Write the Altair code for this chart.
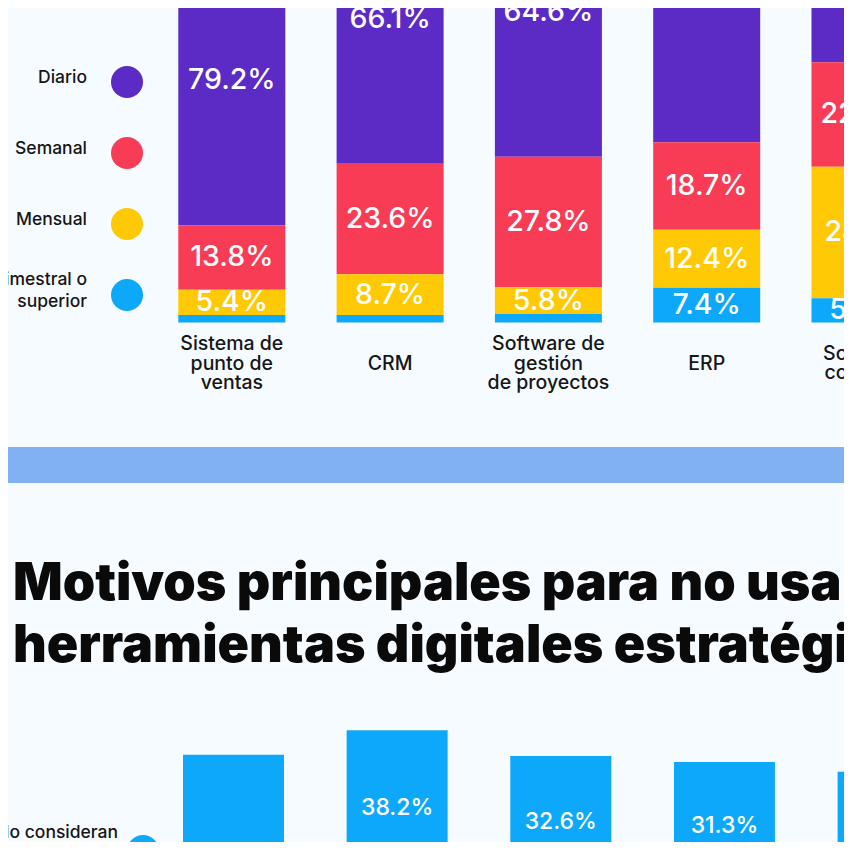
import altair as alt
import pandas as pd

FONT = "Inter"
BG = "#F6FBFF"
INK = "#161616"

# ---------------- top chart data ----------------
herramientas = ["Sistema de\npunto de\nventas", "CRM", "Software de\ngestión\nde proyectos", "ERP", "Software\ncontable"]
frecuencias = ["Diario", "Semanal", "Mensual", "Trimestral o\nsuperior"]
diario = [79.2, 66.1, 64.6, 61.5, 44.4]
semanal = [13.8, 23.6, 27.8, 18.7, 22.3]
mensual = [5.4, 8.7, 5.8, 12.4, 28.1]
trimestral = [1.6, 1.6, 1.8, 7.4, 5.2]
colores_frec = ["#5C2AC4", "#F93C56", "#FFC905", "#0DA8FA"]

# ---------------- bottom chart data ----------------
titulo = ["Motivos principales para no usar", "herramientas digitales estratégicas"]
motivos = ["Motivo 1", "Motivo 2", "Motivo 3", "Motivo 4", "Motivo 5"]
porcentajes = [32.9, 38.2, 32.6, 31.3, 29.2]
etiquetas = ["", "38.2%", "32.6%", "31.3%", ""]
leyenda_inferior = ["No lo consideran"]
color_motivos = "#0DA8FA"

# ---------------- tables ----------------
series = [diario, semanal, mensual, trimestral]
rows = []
for i, h in enumerate(herramientas):
    for j, f in enumerate(frecuencias):
        rows.append({"herramienta": h, "frecuencia": f, "valor": series[j][i],
                     "orden": len(frecuencias) - 1 - j})
df_top = pd.DataFrame(rows)
df_cat = pd.DataFrame({"herramienta": herramientas})
df_leg = pd.DataFrame({"frecuencia": frecuencias, "pos": list(range(len(frecuencias)))})
df_bot = pd.DataFrame({"motivo": motivos, "valor": porcentajes, "etiqueta": etiquetas})
df_one = pd.DataFrame({"k": [0]})
df_leg2 = pd.DataFrame({"texto": leyenda_inferior})

W = 836
H_TOP, H_SEP, H_BOT = 439, 36, 359

X_TOP = alt.Scale(domain=herramientas, range=[170.3, 910.5], paddingInner=0.324, paddingOuter=0)
Y_TOP = alt.Scale(domain=[0, 100], range=[314.5, -153.5], nice=False, zero=False)
COLOR = alt.Scale(domain=frecuencias, range=colores_frec)

base_top = alt.Chart(df_top).transform_stack(
    stack="valor", groupby=["herramienta"], as_=["v0", "v1"],
    sort=[alt.SortField("orden", order="ascending")],
)

bars = base_top.mark_bar(clip=True).encode(
    x=alt.X("herramienta:N", scale=X_TOP, axis=None),
    y=alt.Y("v0:Q", scale=Y_TOP, axis=None),
    y2="v1:Q",
    color=alt.Color("frecuencia:N", scale=COLOR, legend=None),
)

seg_labels = base_top.transform_filter(
    "datum.frecuencia != 'Diario' && datum.valor >= 3"
).transform_calculate(
    mid="(datum.v0 + datum.v1) / 2", txt="format(datum.valor, '.1f') + '%'"
).mark_text(clip=True, color="white", fontSize=28.5, font=FONT, fontWeight=500, baseline="middle").encode(
    x=alt.X("herramienta:N", scale=X_TOP, axis=None),
    y=alt.Y("mid:Q", scale=Y_TOP, axis=None),
    text="txt:N",
)

diario_labels = base_top.transform_filter(
    "datum.frecuencia == 'Diario'"
).transform_calculate(
    txt="format(datum.valor, '.1f') + '%'"
).mark_text(clip=True, color="white", fontSize=28.5, font=FONT, fontWeight=500, baseline="middle", dy=-145).encode(
    x=alt.X("herramienta:N", scale=X_TOP, axis=None),
    y=alt.Y("v0:Q", scale=Y_TOP, axis=None),
    text="txt:N",
)

CAT_LH = 19.5
cat_labels = alt.Chart(df_cat).transform_calculate(
    off=f"-(length(split(datum.herramienta, '\\n')) - 1) * {CAT_LH} / 2"
).mark_text(
    clip=True, dy=41, baseline="middle", lineBreak="\n", lineHeight=CAT_LH,
    fontSize=19.5, font=FONT, fontWeight=500, color=INK,
).encode(
    x=alt.X("herramienta:N", scale=X_TOP, axis=None),
    y=alt.YDatum(0, type="quantitative", scale=Y_TOP),
    yOffset=alt.YOffset("off:Q", scale=None),
    text="herramienta:N",
)

LEG_LH = 22
LEG_Y0, LEG_Y1 = 74, 287
LEG_STEP = (LEG_Y1 - LEG_Y0) / (len(frecuencias) - 1)
Y_LEG = alt.Scale(domain=[0, len(frecuencias) - 1], range=[LEG_Y0, LEG_Y1], nice=False, zero=False)
leg_points = alt.Chart(df_leg).mark_circle(size=1024, opacity=1, clip=True).encode(
    x=alt.value(119),
    y=alt.Y("pos:Q", scale=Y_LEG, axis=None),
    color=alt.Color("frecuencia:N", scale=COLOR, legend=None),
)
leg_text = alt.Chart(df_leg).transform_calculate(
    ypos=f"datum.pos - ((length(split(datum.frecuencia, '\\n')) - 1) * {LEG_LH} / 2 + 4) / {LEG_STEP}"
).mark_text(
    clip=True, align="right", baseline="middle", lineBreak="\n", lineHeight=LEG_LH,
    fontSize=17.5, font=FONT, fontWeight=500, color=INK,
).encode(
    x=alt.value(79),
    y=alt.Y("ypos:Q", scale=Y_LEG, axis=None),
    text="frecuencia:N",
)

top = alt.layer(
    alt.layer(bars, seg_labels, diario_labels, cat_labels),
    alt.layer(leg_points, leg_text),
).resolve_scale(x="independent", y="independent").properties(width=W, height=H_TOP)

sep = alt.Chart(df_one).mark_rect(color="#81B1F3").encode(
    x=alt.value(0), x2=alt.value("width"), y=alt.value(0), y2=alt.value("height")
).properties(width=W, height=H_SEP)

X_BOT = alt.Scale(domain=motivos, range=[175, 930.6], paddingInner=0.383, paddingOuter=0)
Y_BOT = alt.Scale(domain=[0, 100], range=[424, -39], nice=False, zero=False)

bot_bars = alt.Chart(df_bot).mark_bar(clip=True, color=color_motivos).encode(
    x=alt.X("motivo:N", scale=X_BOT, axis=None),
    y=alt.Y("valor:Q", scale=Y_BOT, axis=None),
)
bot_labels = alt.Chart(df_bot).transform_calculate(
    pos="datum.valor * 0.56"
).mark_text(clip=True, color="white", fontSize=23, font=FONT, fontWeight=500, baseline="middle").encode(
    x=alt.X("motivo:N", scale=X_BOT, axis=None),
    y=alt.Y("pos:Q", scale=Y_BOT, axis=None),
    text="etiqueta:N",
)
title_text = alt.Chart(df_one).mark_text(
    clip=True, align="left", baseline="alphabetic", lineHeight=61.5,
    fontSize=52, font=FONT, fontWeight=900, color="#0A0A0A",
).encode(x=alt.value(5), y=alt.value(117), text=alt.value(titulo))

leg2_text = alt.Chart(df_leg2).mark_text(
    clip=True, align="right", baseline="middle", fontSize=17.5, font=FONT, fontWeight=500, color=INK,
).encode(x=alt.value(110), y=alt.value(350), text="texto:N")
leg2_point = alt.Chart(df_leg2).mark_circle(size=1024, opacity=1, clip=True, color=color_motivos).encode(
    x=alt.value(135), y=alt.value(368)
)

bottom = alt.layer(
    alt.layer(bot_bars, bot_labels), title_text, leg2_text, leg2_point
).resolve_scale(x="independent", y="independent").properties(width=W, height=H_BOT)

chart = alt.vconcat(top, sep, bottom, spacing=0).properties(
    padding=0, background=BG
).configure_view(strokeWidth=0)

chart.save("out.html", embed_options={"renderer": "svg", "actions": False})
